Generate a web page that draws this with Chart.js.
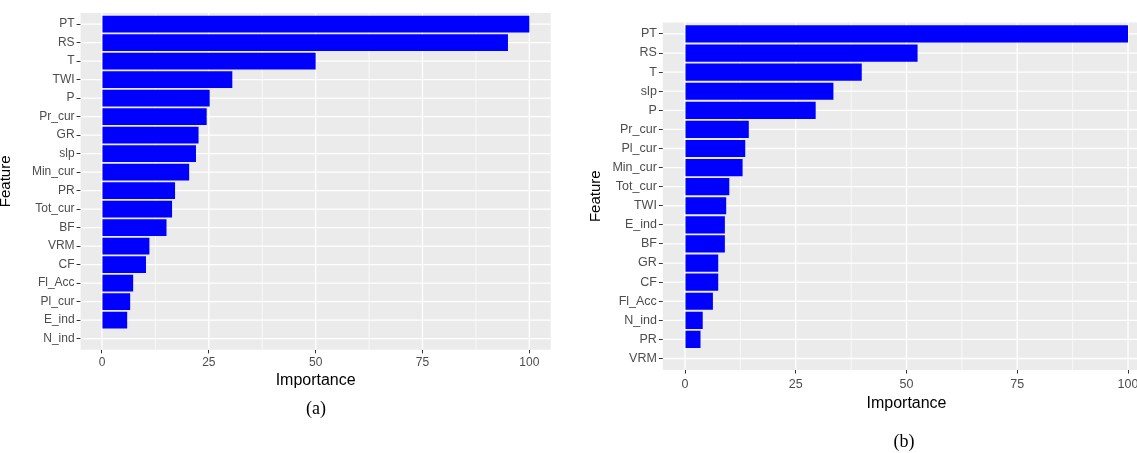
<!DOCTYPE html>
<html>
<head>
<meta charset="utf-8">
<script src="https://cdn.jsdelivr.net/npm/chart.js@4.4.1/dist/chart.umd.min.js"></script>
<style>
    html, body { margin: 0; padding: 0; background: #ffffff; overflow: hidden; }
    #page { position: relative; width: 1137px; height: 453px; overflow: hidden; }
    canvas { position: absolute; top: 0; }
    #chartA { left: 0; }
    #chartB { left: 580px; }
    .caption { position: absolute; font-family: "Liberation Serif", "DejaVu Serif", serif; font-size: 18px; color: #000; transform: translate(-50%, -50%); }
</style>
</head>
<body>
<div id="page">
    <canvas id="chartA" width="560" height="400"></canvas>
    <canvas id="chartB" width="580" height="453"></canvas>
    <div class="caption" style="left:316px; top:408px;">(a)</div>
    <div class="caption" style="left:904px; top:441px;">(b)</div>
</div>
<script>
// Panel (a)
const featuresA = ['PT', 'RS', 'T', 'TWI', 'P', 'Pr_cur', 'GR', 'slp', 'Min_cur', 'PR', 'Tot_cur', 'BF', 'VRM', 'CF', 'Fl_Acc', 'Pl_cur', 'E_ind', 'N_ind'];
const importanceA = [100, 95.0, 50.0, 30.5, 25.2, 24.5, 22.6, 22.0, 20.4, 17.1, 16.4, 15.1, 11.1, 10.3, 7.3, 6.6, 5.9, 0];

// Panel (b)
const featuresB = ['PT', 'RS', 'T', 'slp', 'P', 'Pr_cur', 'Pl_cur', 'Min_cur', 'Tot_cur', 'TWI', 'E_ind', 'BF', 'GR', 'CF', 'Fl_Acc', 'N_ind', 'PR', 'VRM'];
const importanceB = [100, 52.5, 39.9, 33.5, 29.5, 14.4, 13.6, 13.0, 10.0, 9.3, 9.0, 9.0, 7.5, 7.5, 6.3, 4.0, 3.5, 0];

const majorTicks = [0, 25, 50, 75, 100];
const minorTicks = [12.5, 37.5, 62.5, 87.5];

// ggplot style grey panel with white grid, drawn behind the bars
const ggPanel = {
    id: 'ggPanel',
    beforeDatasetsDraw(chart) {
        const ctx = chart.ctx;
        const x = chart.scales.x;
        const y = chart.scales.y;
        const step = Math.abs(y.getPixelForValue(1) - y.getPixelForValue(0));
        const top = y.getPixelForValue(0) - 0.6 * step;
        const bottom = y.getPixelForValue(chart.data.labels.length - 1) + 0.6 * step;
        const left = chart.chartArea.left;
        const right = chart.chartArea.right;

        ctx.save();
        ctx.fillStyle = '#EBEBEB';
        ctx.fillRect(left, top, right - left, bottom - top);
        ctx.strokeStyle = '#FFFFFF';

        ctx.lineWidth = 0.7;
        minorTicks.forEach(v => {
            const px = x.getPixelForValue(v);
            ctx.beginPath(); ctx.moveTo(px, top); ctx.lineTo(px, bottom); ctx.stroke();
        });
        ctx.lineWidth = 1.3;
        majorTicks.forEach(v => {
            const px = x.getPixelForValue(v);
            ctx.beginPath(); ctx.moveTo(px, top); ctx.lineTo(px, bottom); ctx.stroke();
        });
        chart.data.labels.forEach((l, i) => {
            const py = y.getPixelForValue(i);
            ctx.beginPath(); ctx.moveTo(left, py); ctx.lineTo(right, py); ctx.stroke();
        });
        ctx.restore();
    }
};

function makePanel(id, labels, values, g) {
    const ctx = document.getElementById(id).getContext('2d');
    return new Chart(ctx, {
        type: 'bar',
        data: {
            labels: labels,
            datasets: [{
                data: values,
                backgroundColor: '#0000FF',
                borderWidth: 0,
                barPercentage: 0.9,
                categoryPercentage: 1.0
            }]
        },
        plugins: [ggPanel],
        options: {
            indexAxis: 'y',
            responsive: false,
            animation: false,
            layout: { padding: { top: g.top, right: g.right, bottom: 0, left: 0 } },
            plugins: { legend: { display: false }, tooltip: { enabled: false } },
            scales: {
                x: {
                    type: 'linear',
                    min: -5,
                    max: 105,
                    afterBuildTicks: scale => { scale.ticks = majorTicks.map(v => ({ value: v })); },
                    afterFit: scale => { scale.height = g.xHeight; },
                    border: { display: false },
                    grid: { drawOnChartArea: false, tickLength: 5.5, tickColor: '#333333', tickWidth: 1 },
                    ticks: {
                        color: '#4D4D4D',
                        padding: g.xPad,
                        font: { family: 'Liberation Sans, Arial, sans-serif', size: g.tickSize }
                    },
                    title: {
                        display: true,
                        text: 'Importance',
                        color: '#000000',
                        padding: { top: 0, bottom: g.titlePad },
                        font: { family: 'Liberation Sans, Arial, sans-serif', size: 16 }
                    }
                },
                y: {
                    type: 'category',
                    offset: true,
                    afterFit: scale => { scale.width = g.yWidth; },
                    border: { display: false },
                    grid: { drawOnChartArea: false, offset: false, tickLength: 4, tickColor: '#333333', tickWidth: 1 },
                    ticks: {
                        color: '#4D4D4D',
                        padding: 2,
                        autoSkip: false,
                        font: { family: 'Liberation Sans, Arial, sans-serif', size: g.tickSize }
                    },
                    title: {
                        display: true,
                        text: 'Feature',
                        color: '#000000',
                        padding: { top: g.yTitlePad, bottom: 0 },
                        font: { family: 'Liberation Sans, Arial, sans-serif', size: 15, lineHeight: 0.8 }
                    }
                }
            }
        }
    });
}

document.addEventListener('DOMContentLoaded', function() {
    makePanel('chartA', featuresA, importanceA, {
        top: 14.85, right: 9.3, xHeight: 52.15, yWidth: 80.6,
        xPad: 2.5, titlePad: 9.4, tickSize: 12, yTitlePad: 0
    });
    makePanel('chartB', featuresB, importanceB, {
        top: 24.4, right: 9.85, xHeight: 84.95, yWidth: 82.85,
        xPad: 3, titlePad: 39.4, tickSize: 12.5, yTitlePad: 10
    });
});
</script>
</body>
</html>
